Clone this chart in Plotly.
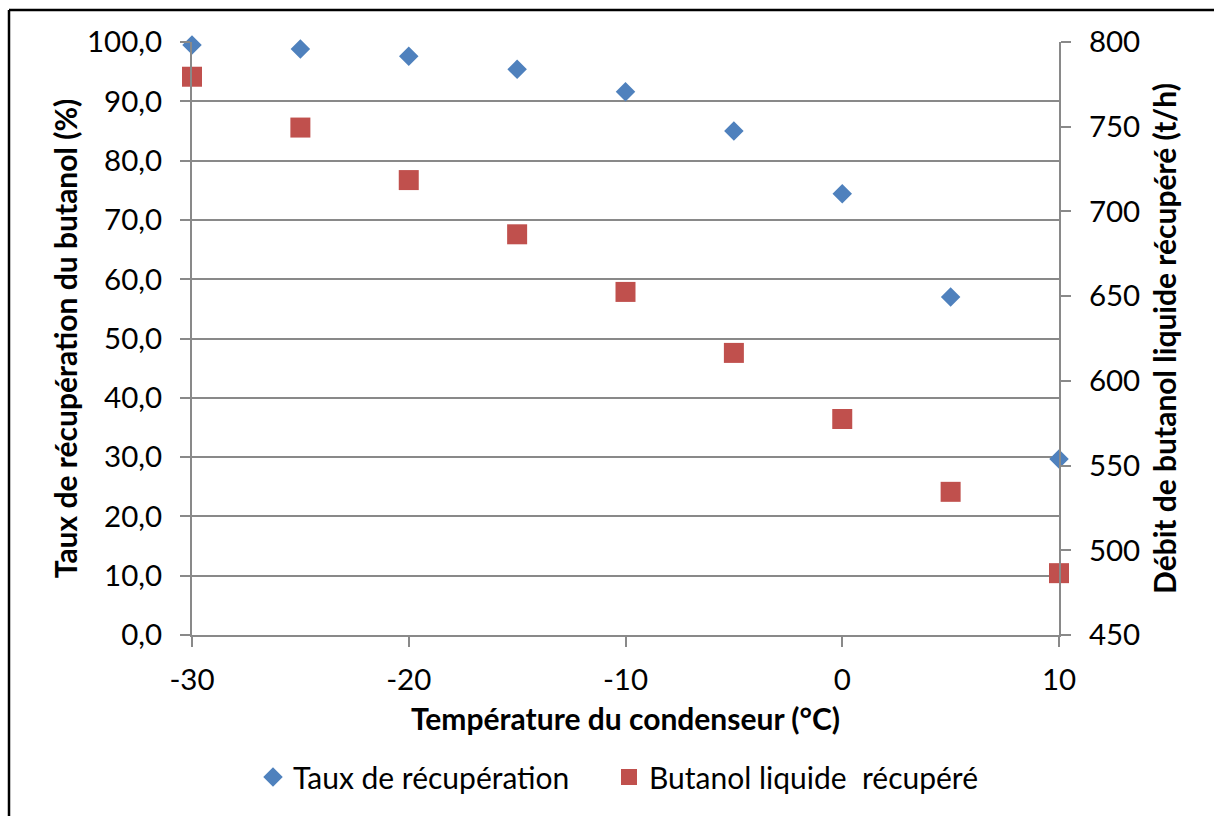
import plotly.graph_objects as go

# Condenser temperature (°C)
temperature = [-30, -25, -20, -15, -10, -5, 0, 5, 10]
# Butanol recovery rate (%)
taux_recuperation = [99.5, 98.8, 97.6, 95.4, 91.6, 85.0, 74.4, 57.0, 29.7]
# Recovered liquid butanol flow (t/h)
butanol_liquide = [779.5, 749.5, 718.5, 686.5, 652.5, 616.5, 577.5, 534.5, 486.5]

# x-axis tick labels (plain hyphen as minus sign)
x_tickvals = [-30, -20, -10, 0, 10]
x_ticktext = ["-30", "-20", "-10", "0", "10"]

FONT = "Lato"
GRAY = "#898989"
TICK_SIZE = 29.5
TITLE_SIZE = 30

fig = go.Figure()

fig.add_trace(go.Scatter(
    x=temperature, y=taux_recuperation,
    mode="markers", name="Taux de récupération",
    marker=dict(symbol="diamond", size=15, color="#4F81BD"),
    cliponaxis=False, yaxis="y", legend="legend",
))
fig.add_trace(go.Scatter(
    x=temperature, y=butanol_liquide,
    mode="markers", name="Butanol liquide  récupéré",
    marker=dict(symbol="square", size=20, color="#C0504D"),
    cliponaxis=False, yaxis="y2", legend="legend2",
))

W, H = 1214, 816
L, R, T, B = 192, 1059, 42, 635
pw, ph = R - L, B - T


def px(xp):
    return (xp - L) / pw


def py(yp):
    return (B - yp) / ph


axis_common = dict(
    zeroline=False,
    showline=True, linecolor=GRAY, linewidth=2,
    ticks="outside", ticklen=10, tickwidth=2, tickcolor=GRAY,
    tickfont=dict(family=FONT, size=TICK_SIZE, color="black"),
)

legend_common = dict(
    orientation="h", xanchor="left",
    y=py(777), yanchor="middle",
    font=dict(family=FONT, size=TITLE_SIZE, color="black"),
    itemwidth=30, bgcolor="rgba(0,0,0,0)",
)

fig.update_layout(
    width=W, height=H,
    margin=dict(l=L, r=W - R, t=T, b=H - B),
    paper_bgcolor="white", plot_bgcolor="white",
    separators=", ",
    font=dict(family=FONT, size=TITLE_SIZE, color="black"),
    showlegend=True,
    legend=dict(x=px(253), **legend_common),
    legend2=dict(x=px(609), **legend_common),
    xaxis=dict(
        range=[-30, 10], tickvals=x_tickvals, ticktext=x_ticktext,
        showgrid=False, ticklabelstandoff=8,
        title=dict(text="<b>Température du condenseur (°C)</b>",
                   font=dict(family=FONT, size=TITLE_SIZE), standoff=14),
        **axis_common,
    ),
    yaxis=dict(
        range=[0, 100], dtick=10, tickformat=".1f",
        showgrid=True, gridcolor=GRAY, gridwidth=2,
        ticklabelstandoff=12,
        title=dict(text="<b>Taux de récupération du butanol (%)</b>",
                   font=dict(family=FONT, size=TITLE_SIZE), standoff=0),
        **axis_common,
    ),
    yaxis2=dict(
        range=[450, 800], dtick=50, overlaying="y", side="right",
        showgrid=False, ticklabelstandoff=12,
        title=dict(text="<b>Débit de butanol liquide récupéré (t/h)</b>",
                   font=dict(family=FONT, size=TITLE_SIZE), standoff=16),
        **axis_common,
    ),
    shapes=[
        dict(type="line", xref="paper", yref="paper",
             x0=px(9), x1=px(9), y0=py(10), y1=py(H + 5),
             line=dict(color="black", width=2.5)),
        dict(type="line", xref="paper", yref="paper",
             x0=px(9), x1=px(W + 5), y0=py(10), y1=py(10),
             line=dict(color="black", width=2.5)),
    ],
)

fig.write_html("out.html")
